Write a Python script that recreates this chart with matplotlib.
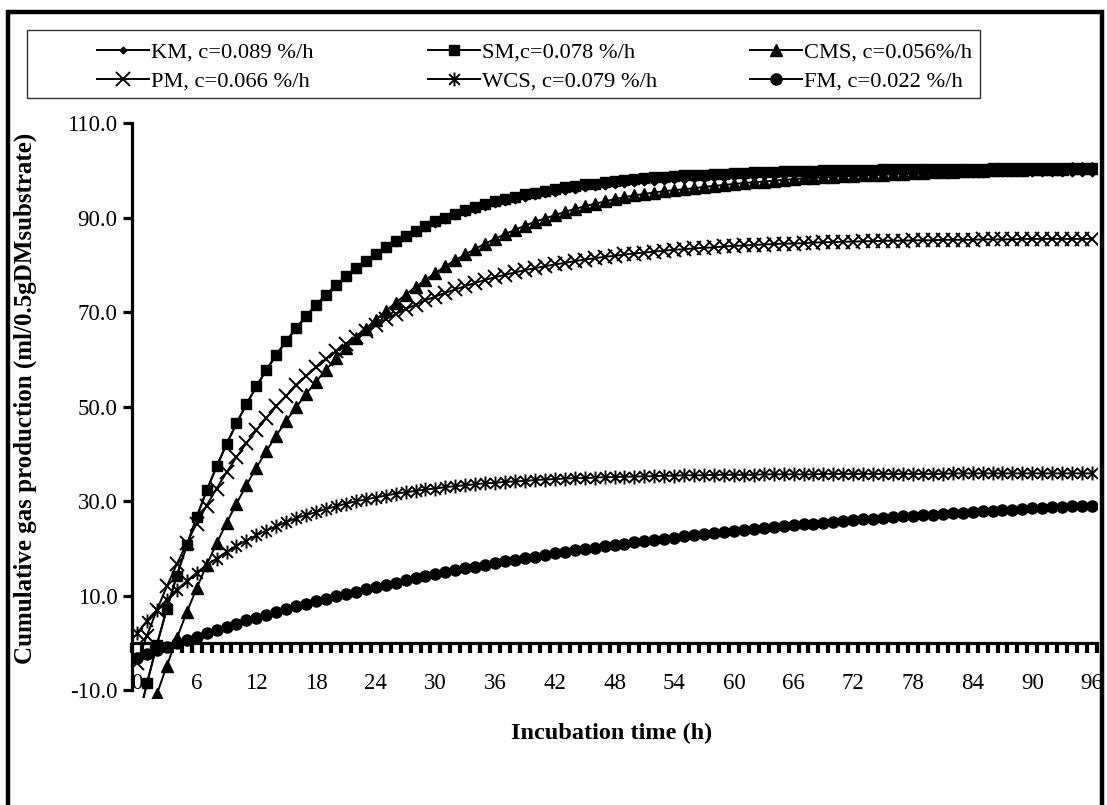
import matplotlib
matplotlib.use('Agg')
import matplotlib.pyplot as plt
from matplotlib.path import Path
from matplotlib.patches import Rectangle

plt.rcParams['font.family'] = ['Liberation Serif', 'DejaVu Serif']

# hourly readings, 0..96 h
hours = list(range(97))

km = [-17.3, -8.6, -0.4, 7.2, 14.2, 20.6, 26.6, 32.2, 37.3, 42.0,
      46.4, 50.5, 54.2, 57.7, 60.9, 63.8, 66.5, 69.0, 71.4, 73.5,
      75.5, 77.3, 79.0, 80.6, 82.1, 83.4, 84.7, 85.8, 86.8, 87.8,
      88.7, 89.5, 90.3, 91.0, 91.6, 92.2, 92.8, 93.3, 93.8, 94.2,
      94.6, 95.0, 95.3, 95.6, 95.9, 96.2, 96.4, 96.7, 96.9, 97.1,
      97.3, 97.5, 97.6, 97.8, 97.9, 98.0, 98.1, 98.2, 98.3, 98.4,
      98.5, 98.6, 98.6, 98.7, 98.8, 98.8, 98.9, 98.9, 99.0, 99.0,
      99.0, 99.1, 99.1, 99.1, 99.2, 99.2, 99.2, 99.2, 99.3, 99.3,
      99.3, 99.3, 99.3, 99.3, 99.3, 99.3, 99.4, 99.4, 99.4, 99.4,
      99.4, 99.4, 99.4, 99.4, 99.4, 99.4, 99.4]

sm = [-17.3, -8.5, -0.3, 7.3, 14.3, 20.7, 26.7, 32.3, 37.4, 42.1,
      46.5, 50.6, 54.3, 57.8, 61.0, 63.9, 66.7, 69.2, 71.6, 73.7,
      75.7, 77.6, 79.3, 80.9, 82.4, 83.7, 85.0, 86.2, 87.2, 88.2,
      89.2, 90.0, 90.8, 91.5, 92.2, 92.8, 93.4, 93.9, 94.4, 94.9,
      95.3, 95.7, 96.0, 96.4, 96.7, 97.0, 97.2, 97.5, 97.7, 97.9,
      98.1, 98.3, 98.5, 98.6, 98.8, 98.9, 99.0, 99.1, 99.2, 99.3,
      99.4, 99.5, 99.6, 99.6, 99.7, 99.8, 99.8, 99.9, 99.9, 100.0,
      100.0, 100.0, 100.1, 100.1, 100.1, 100.2, 100.2, 100.2, 100.2, 100.3,
      100.3, 100.3, 100.3, 100.3, 100.3, 100.3, 100.4, 100.4, 100.4, 100.4,
      100.4, 100.4, 100.4, 100.4, 100.4, 100.4, 100.4]

cms = [-24.1, -17.3, -10.8, -4.8, 1.0, 6.5, 11.6, 16.5, 21.1, 25.4,
       29.5, 33.4, 37.1, 40.6, 43.9, 47.0, 49.9, 52.7, 55.3, 57.8,
       60.2, 62.4, 64.5, 66.5, 68.4, 70.2, 72.0, 73.7, 75.3, 76.8,
       78.3, 79.7, 81.0, 82.2, 83.4, 84.5, 85.5, 86.5, 87.4, 88.3,
       89.1, 89.8, 90.5, 91.2, 91.8, 92.4, 92.9, 93.4, 93.9, 94.3,
       94.7, 95.0, 95.3, 95.6, 95.8, 96.0, 96.2, 96.5, 96.7, 96.9,
       97.1, 97.3, 97.5, 97.6, 97.8, 98.0, 98.1, 98.3, 98.4, 98.5,
       98.6, 98.7, 98.8, 98.9, 99.0, 99.1, 99.2, 99.3, 99.4, 99.5,
       99.6, 99.7, 99.7, 99.8, 99.9, 99.9, 100.0, 100.0, 100.1, 100.1,
       100.2, 100.2, 100.3, 100.3, 100.4, 100.4, 100.4]

pm = [-4.1, 1.6, 7.0, 12.0, 16.7, 21.1, 25.3, 29.1, 32.7, 36.1,
      39.3, 42.3, 45.0, 47.6, 50.1, 52.3, 54.5, 56.5, 58.3, 60.1,
      61.7, 63.2, 64.7, 66.0, 67.3, 68.5, 69.6, 70.6, 71.6, 72.5,
      73.3, 74.1, 74.8, 75.5, 76.2, 76.8, 77.4, 77.9, 78.4, 78.9,
      79.3, 79.7, 80.1, 80.4, 80.8, 81.1, 81.4, 81.7, 81.9, 82.2,
      82.4, 82.6, 82.8, 83.0, 83.2, 83.3, 83.5, 83.6, 83.7, 83.9,
      84.0, 84.1, 84.2, 84.3, 84.4, 84.5, 84.5, 84.6, 84.7, 84.8,
      84.8, 84.9, 84.9, 85.0, 85.0, 85.1, 85.1, 85.1, 85.2, 85.2,
      85.2, 85.3, 85.3, 85.3, 85.3, 85.4, 85.4, 85.4, 85.4, 85.5,
      85.5, 85.5, 85.5, 85.5, 85.5, 85.5, 85.5]

wcs = [2.1, 4.7, 7.0, 9.2, 11.3, 13.1, 14.9, 16.5, 17.9, 19.3,
       20.6, 21.7, 22.8, 23.8, 24.7, 25.6, 26.4, 27.1, 27.7, 28.4,
       28.9, 29.5, 30.0, 30.4, 30.8, 31.2, 31.6, 31.9, 32.2, 32.5,
       32.7, 33.0, 33.2, 33.4, 33.6, 33.8, 33.9, 34.1, 34.2, 34.3,
       34.5, 34.6, 34.7, 34.8, 34.9, 34.9, 35.0, 35.1, 35.1, 35.2,
       35.2, 35.3, 35.3, 35.4, 35.4, 35.5, 35.5, 35.5, 35.6, 35.6,
       35.6, 35.6, 35.6, 35.7, 35.7, 35.7, 35.7, 35.7, 35.7, 35.8,
       35.8, 35.8, 35.8, 35.8, 35.8, 35.8, 35.8, 35.8, 35.8, 35.8,
       35.8, 35.8, 35.9, 35.9, 35.9, 35.9, 35.9, 35.9, 35.9, 35.9,
       35.9, 35.9, 35.9, 35.9, 35.9, 35.9, 35.9]

fm = [-3.1, -2.3, -1.5, -0.8, 0.0, 0.7, 1.4, 2.1, 2.8, 3.5,
      4.1, 4.8, 5.4, 6.0, 6.6, 7.2, 7.8, 8.3, 8.9, 9.4,
      9.9, 10.4, 10.9, 11.4, 11.9, 12.4, 12.8, 13.3, 13.7, 14.2,
      14.6, 15.0, 15.4, 15.8, 16.2, 16.6, 16.9, 17.3, 17.6, 18.0,
      18.3, 18.6, 19.0, 19.3, 19.6, 19.9, 20.2, 20.5, 20.8, 21.0,
      21.3, 21.6, 21.8, 22.1, 22.3, 22.6, 22.8, 23.1, 23.3, 23.5,
      23.7, 23.9, 24.1, 24.3, 24.5, 24.7, 24.9, 25.1, 25.3, 25.5,
      25.7, 25.8, 26.0, 26.2, 26.3, 26.5, 26.6, 26.8, 26.9, 27.1,
      27.2, 27.3, 27.5, 27.6, 27.7, 27.9, 28.0, 28.1, 28.2, 28.3,
      28.5, 28.6, 28.7, 28.8, 28.9, 29.0, 29.1]

labels = ["KM, c=0.089 %/h", "SM,c=0.078 %/h", "CMS, c=0.056%/h",
          "PM, c=0.066 %/h", "WCS, c=0.079 %/h", "FM, c=0.022 %/h"]
y_ticks = [-10, 10, 30, 50, 70, 90, 110]
x_ticks = list(range(0, 97, 6))

# Excel style star marker: an X with a vertical bar
star = Path([(-1, -1), (1, 1), (-1, 1), (1, -1), (0, -1.3), (0, 1.3)],
            [Path.MOVETO, Path.LINETO, Path.MOVETO, Path.LINETO, Path.MOVETO, Path.LINETO])

W, H = 1107, 805
fig = plt.figure(figsize=(W / 100, H / 100), dpi=100)
ax = fig.add_axes([132 / W, (H - 698) / H, 965 / W, 575 / H])

lw = 1.4
styles = [
    (km, dict(marker='D', ms=3.4)),
    (sm, dict(marker='s', ms=7.5)),
    (cms, dict(marker='^', ms=8.5)),
    (pm, dict(marker='x', ms=9.5, mew=1.4)),
    (wcs, dict(marker=star, ms=10, mew=1.4)),
    (fm, dict(marker='o', ms=8)),
]
handles = []
for (vals, kw), lab in zip(styles, labels):
    h, = ax.plot(hours, vals, color='black', lw=lw, mfc='black', mec='black', label=lab, **kw)
    handles.append(h)

ax.set_xlim(-0.5, 96.5)
ax.set_ylim(-11.6, 110)

for s in ['top', 'right']:
    ax.spines[s].set_visible(False)
ax.spines['left'].set_bounds(-10, 110)
ax.spines['left'].set_linewidth(2.3)
ax.spines['bottom'].set_position(('data', 0))
ax.spines['bottom'].set_linewidth(2.3)

ax.set_yticks(y_ticks)
ax.set_yticklabels([f"{v:.1f}" for v in y_ticks])
ax.tick_params(axis='y', direction='out', length=6.5, width=2.3, labelsize=16.5, pad=4)

ax.set_xticks(x_ticks)
ax.set_xticks([i - 0.5 for i in range(98)], minor=True)
ax.tick_params(axis='x', which='major', length=0, labelsize=16.5, pad=21.5)
ax.tick_params(axis='x', which='minor', direction='out', length=7, width=3)

# legend: three columns placed by hand, rows read KM SM CMS / PM WCS FM
col_x = [97, 428, 750]
for c, x0 in enumerate(col_x):
    fig.legend([handles[c], handles[c + 3]], [labels[c], labels[c + 3]],
               loc='upper left', bbox_to_anchor=(x0 / W, 1 - 42 / H),
               fontsize=16.2, frameon=False, handlelength=2.3,
               handletextpad=0.08, borderaxespad=0, borderpad=0,
               labelspacing=0.37)
fig.patches.append(Rectangle((27 / W, 1 - 98 / H), 953 / W, 68 / H,
                             transform=fig.transFigure, fill=False,
                             edgecolor='#333333', linewidth=1.0))

fig.text(25 / W, 1 - 398 / H, "Cumulative gas production (ml/0.5gDMsubstrate)",
         rotation=90, ha='center', va='center', fontsize=18, fontweight='bold')
fig.text(612 / W, 1 - 733 / H, "Incubation time (h)",
         ha='center', va='center', fontsize=17.5, fontweight='bold')

# outer border of the chart area
fig.patches.append(Rectangle((8 / W, -0.02), (1102 - 8) / W, (H - 12) / H + 0.02,
                             transform=fig.transFigure, fill=False,
                             edgecolor='black', linewidth=3.2))

fig.savefig("out.png", dpi=100)
